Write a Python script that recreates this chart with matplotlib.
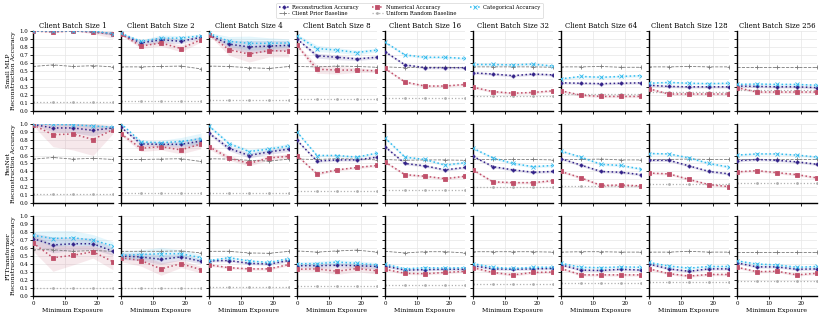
import numpy as np
import matplotlib
matplotlib.use("Agg")
import matplotlib.pyplot as plt

plt.rcParams['font.family'] = ['DejaVu Serif']

exposure = [0, 6.25, 12.5, 18.75, 25]
batch_sizes = [1, 2, 4, 8, 16, 32, 64, 128, 256]
models = ["Small MLP", "ResNet", "FTTransformer"]

# ---------------- Small MLP ----------------
mlp_recon = [
    [1.00, 0.995, 1.00, 0.99, 0.965],
    [0.96, 0.85, 0.89, 0.87, 0.92],
    [0.95, 0.835, 0.80, 0.81, 0.82],
    [0.90, 0.69, 0.67, 0.65, 0.67],
    [0.74, 0.575, 0.54, 0.54, 0.54],
    [0.475, 0.46, 0.44, 0.46, 0.45],
    [0.35, 0.345, 0.34, 0.345, 0.35],
    [0.32, 0.305, 0.30, 0.30, 0.30],
    [0.31, 0.305, 0.30, 0.30, 0.29],
]
mlp_num = [
    [1.00, 0.985, 1.00, 0.985, 0.96],
    [0.96, 0.81, 0.85, 0.78, 0.89],
    [0.955, 0.765, 0.71, 0.755, 0.745],
    [0.82, 0.52, 0.51, 0.51, 0.50],
    [0.53, 0.36, 0.31, 0.31, 0.33],
    [0.295, 0.24, 0.22, 0.23, 0.25],
    [0.25, 0.195, 0.18, 0.18, 0.18],
    [0.275, 0.21, 0.21, 0.21, 0.21],
    [0.29, 0.235, 0.235, 0.235, 0.235],
]
mlp_cat = [
    [1.00, 1.00, 1.00, 1.00, 0.965],
    [0.97, 0.87, 0.91, 0.91, 0.94],
    [0.97, 0.87, 0.845, 0.845, 0.85],
    [0.94, 0.78, 0.76, 0.73, 0.76],
    [0.86, 0.70, 0.67, 0.67, 0.655],
    [0.58, 0.58, 0.575, 0.585, 0.56],
    [0.40, 0.43, 0.42, 0.43, 0.44],
    [0.345, 0.355, 0.345, 0.34, 0.345],
    [0.33, 0.335, 0.33, 0.33, 0.32],
]
mlp_prior = [
    [0.555, 0.575, 0.555, 0.565, 0.55],
    [0.55, 0.55, 0.555, 0.56, 0.525],
    [0.56, 0.555, 0.54, 0.53, 0.555],
    [0.555, 0.55, 0.56, 0.555, 0.545],
    [0.55, 0.54, 0.545, 0.545, 0.54],
    [0.55, 0.55, 0.55, 0.55, 0.545],
    [0.55, 0.55, 0.555, 0.545, 0.545],
    [0.55, 0.55, 0.555, 0.55, 0.55],
    [0.55, 0.55, 0.55, 0.55, 0.55],
]
mlp_uniform = [0.115, 0.125, 0.135, 0.15, 0.165, 0.19, 0.21, 0.24, 0.26]

# ---------------- ResNet ----------------
resnet_recon = [
    [0.99, 0.945, 0.945, 0.915, 0.945],
    [0.955, 0.745, 0.74, 0.74, 0.78],
    [0.88, 0.69, 0.60, 0.645, 0.68],
    [0.79, 0.53, 0.545, 0.545, 0.58],
    [0.71, 0.50, 0.47, 0.42, 0.45],
    [0.59, 0.46, 0.42, 0.39, 0.40],
    [0.56, 0.48, 0.40, 0.39, 0.36],
    [0.54, 0.54, 0.47, 0.40, 0.37],
    [0.535, 0.55, 0.54, 0.52, 0.49],
]
resnet_num = [
    [0.985, 0.86, 0.87, 0.80, 0.925],
    [0.87, 0.69, 0.71, 0.67, 0.745],
    [0.71, 0.57, 0.50, 0.57, 0.59],
    [0.60, 0.37, 0.42, 0.45, 0.475],
    [0.52, 0.36, 0.34, 0.31, 0.34],
    [0.42, 0.27, 0.26, 0.26, 0.285],
    [0.40, 0.32, 0.225, 0.23, 0.22],
    [0.38, 0.37, 0.30, 0.235, 0.21],
    [0.395, 0.41, 0.385, 0.36, 0.32],
]
resnet_cat = [
    [1.00, 0.99, 0.985, 0.97, 0.955],
    [1.00, 0.77, 0.76, 0.775, 0.81],
    [0.97, 0.75, 0.65, 0.68, 0.72],
    [0.895, 0.60, 0.60, 0.58, 0.63],
    [0.82, 0.58, 0.55, 0.48, 0.51],
    [0.69, 0.57, 0.50, 0.46, 0.475],
    [0.655, 0.58, 0.49, 0.475, 0.43],
    [0.625, 0.62, 0.57, 0.50, 0.455],
    [0.605, 0.62, 0.62, 0.605, 0.58],
]
resnet_prior = mlp_prior
resnet_uniform = [0.115, 0.125, 0.135, 0.155, 0.17, 0.2, 0.215, 0.24, 0.26]

# ---------------- FTTransformer ----------------
ftt_recon = [
    [0.72, 0.64, 0.655, 0.655, 0.56],
    [0.50, 0.49, 0.46, 0.49, 0.435],
    [0.44, 0.445, 0.41, 0.40, 0.445],
    [0.38, 0.38, 0.385, 0.38, 0.37],
    [0.375, 0.325, 0.33, 0.335, 0.335],
    [0.38, 0.34, 0.335, 0.34, 0.345],
    [0.39, 0.325, 0.32, 0.335, 0.325],
    [0.40, 0.34, 0.31, 0.34, 0.34],
    [0.415, 0.365, 0.365, 0.335, 0.34],
]
ftt_num = [
    [0.665, 0.48, 0.51, 0.555, 0.43],
    [0.48, 0.445, 0.34, 0.405, 0.33],
    [0.39, 0.355, 0.34, 0.34, 0.395],
    [0.335, 0.34, 0.31, 0.345, 0.315],
    [0.335, 0.285, 0.28, 0.295, 0.31],
    [0.355, 0.295, 0.265, 0.295, 0.30],
    [0.345, 0.265, 0.265, 0.265, 0.265],
    [0.34, 0.28, 0.25, 0.27, 0.27],
    [0.36, 0.305, 0.31, 0.265, 0.285],
]
ftt_cat = [
    [0.76, 0.72, 0.73, 0.70, 0.63],
    [0.51, 0.52, 0.53, 0.53, 0.48],
    [0.445, 0.48, 0.44, 0.42, 0.47],
    [0.405, 0.405, 0.425, 0.41, 0.39],
    [0.40, 0.34, 0.355, 0.35, 0.355],
    [0.405, 0.36, 0.345, 0.36, 0.36],
    [0.41, 0.36, 0.355, 0.365, 0.36],
    [0.42, 0.375, 0.35, 0.37, 0.37],
    [0.44, 0.40, 0.39, 0.36, 0.37],
]
ftt_prior = [
    [0.58, 0.58, 0.56, 0.57, 0.56],
    [0.56, 0.56, 0.56, 0.565, 0.54],
    [0.56, 0.56, 0.54, 0.535, 0.56],
    [0.565, 0.55, 0.565, 0.575, 0.55],
    [0.56, 0.54, 0.555, 0.555, 0.54],
    [0.555, 0.555, 0.555, 0.555, 0.55],
    [0.55, 0.555, 0.555, 0.55, 0.55],
    [0.55, 0.55, 0.56, 0.55, 0.55],
    [0.55, 0.55, 0.55, 0.55, 0.55],
]
ftt_uniform = [0.10, 0.105, 0.115, 0.125, 0.14, 0.155, 0.16, 0.18, 0.19]

# Spread (half-width of shaded bands): (row, col) -> [recon, num, cat]
default_spread = [0.015, 0.015, 0.015]
spreads = {
    (0, 0): [[0.0, 0.005, 0.0, 0.01, 0.02], [0.0, 0.01, 0.0, 0.02, 0.05], [0.0, 0.0, 0.0, 0.01, 0.02]],
    (0, 1): [[0.01, 0.03, 0.04, 0.03, 0.02], [0.01, 0.03, 0.04, 0.04, 0.03], [0.01, 0.02, 0.04, 0.03, 0.02]],
    (0, 2): [[0.01, 0.05, 0.08, 0.07, 0.06], [0.01, 0.07, 0.10, 0.08, 0.07], [0.01, 0.06, 0.09, 0.07, 0.05]],
    (0, 3): [[0.01, 0.03, 0.03, 0.02, 0.02], [0.02, 0.05, 0.05, 0.03, 0.02], [0.02, 0.04, 0.03, 0.03, 0.02]],
    (1, 0): [[0.01, 0.05, 0.06, 0.07, 0.02], [0.01, 0.15, 0.20, 0.20, 0.05], [0.0, 0.01, 0.01, 0.02, 0.02]],
    (1, 1): [[0.01, 0.03, 0.03, 0.04, 0.06], [0.02, 0.04, 0.04, 0.05, 0.06], [0.0, 0.02, 0.03, 0.05, 0.07]],
    (1, 2): [[0.02, 0.03, 0.03, 0.03, 0.03], [0.03, 0.03, 0.03, 0.03, 0.03], [0.02, 0.02, 0.03, 0.03, 0.03]],
    (2, 0): [[0.07, 0.10, 0.08, 0.07, 0.05], [0.10, 0.17, 0.12, 0.08, 0.10], [0.05, 0.10, 0.09, 0.07, 0.05]],
    (2, 1): [[0.04, 0.05, 0.06, 0.04, 0.03], [0.05, 0.07, 0.08, 0.05, 0.04], [0.05, 0.06, 0.08, 0.05, 0.04]],
    (2, 3): [[0.02, 0.03, 0.03, 0.03, 0.03], [0.02, 0.03, 0.04, 0.04, 0.04], [0.02, 0.03, 0.03, 0.03, 0.03]],
}

data = [
    (mlp_recon, mlp_num, mlp_cat, mlp_prior, mlp_uniform),
    (resnet_recon, resnet_num, resnet_cat, resnet_prior, resnet_uniform),
    (ftt_recon, ftt_num, ftt_cat, ftt_prior, ftt_uniform),
]

c_recon = '#332288'
c_num = '#C0506A'
c_cat = '#33BBEE'
c_prior = '#7a7a7a'
c_unif = '#b0b0b0'

fig, axes = plt.subplots(3, 9, figsize=(8.24, 3.19), dpi=100, sharex=True, sharey=True)
fig.subplots_adjust(left=0.040, right=0.9915, bottom=0.072, top=0.903, wspace=0.10, hspace=0.16)

x = np.array(exposure)
for r in range(3):
    recon, num, cat, prior, unif = data[r]
    for c in range(9):
        ax = axes[r, c]
        sp = spreads.get((r, c), None)
        series = [(recon[c], c_recon, 'P', 2.2, 'Reconstruction Accuracy'),
                  (num[c], c_num, 's', 2.6, 'Numerical Accuracy'),
                  (cat[c], c_cat, 'x', 2.2, 'Categorical Accuracy')]
        # baselines
        ax.plot(x, prior[c], color=c_prior, ls='--', lw=0.6, marker='+', ms=2.5,
                mew=0.6, label='Client Prior Baseline', zorder=2)
        ax.plot(x, [unif[c]] * len(x), color=c_unif, ls=':', lw=0.9, marker='.', ms=2,
                label='Uniform Random Baseline', zorder=2)
        for k, (vals, col, mk, ms, lab) in enumerate(series):
            v = np.array(vals)
            s = np.array(sp[k]) if sp is not None else np.array([default_spread[k]] * len(x))
            ax.fill_between(x, np.clip(v - s, 0, 1), np.clip(v + s, 0, 1), color=col, alpha=0.13, lw=0)
            ax.plot(x, v, color=col, ls=':', lw=1.1, marker=mk, ms=ms, mew=0.6, label=lab, zorder=3)
        ax.set_xlim(0, 25)
        ax.set_ylim(0, 1.0)
        ax.set_yticks(np.arange(0, 1.01, 0.1))
        ax.set_xticks([0, 10, 20])
        ax.grid(True, color='#e6e6e6', lw=0.5)
        ax.set_axisbelow(True)
        for side in ['top', 'right']:
            ax.spines[side].set_visible(False)
        for side in ['left', 'bottom']:
            ax.spines[side].set_linewidth(1.0)
            ax.spines[side].set_color('black')
        ax.tick_params(axis='both', labelsize=4, length=2, width=0.6, pad=1.5)
        if r == 0:
            ax.set_title(f"Client Batch Size {batch_sizes[c]}", fontsize=5, pad=2)
        if r == 2:
            ax.set_xlabel("Minimum Exposure", fontsize=4.5, labelpad=1.5)
        if c == 0:
            ax.set_ylabel(f"{models[r]}\nReconstruction Accuracy", fontsize=4.5, labelpad=2, linespacing=1.1)
            ax.set_yticklabels([f"{t:.1f}" for t in np.arange(0, 1.01, 0.1)])

handles, labels = axes[0, 0].get_legend_handles_labels()
order = ['Reconstruction Accuracy', 'Client Prior Baseline', 'Numerical Accuracy',
         'Uniform Random Baseline', 'Categorical Accuracy']
hmap = dict(zip(labels, handles))
leg = fig.legend([hmap[o] for o in order], order, loc='upper center', bbox_to_anchor=(0.497, 1.0),
                 ncol=3, fontsize=3.8, frameon=True, handlelength=2.0, columnspacing=2.5,
                 borderpad=0.4, labelspacing=0.3, handletextpad=0.6)
leg.get_frame().set_edgecolor('#cccccc')
leg.get_frame().set_linewidth(0.5)

fig.savefig('out.png', dpi=100)
